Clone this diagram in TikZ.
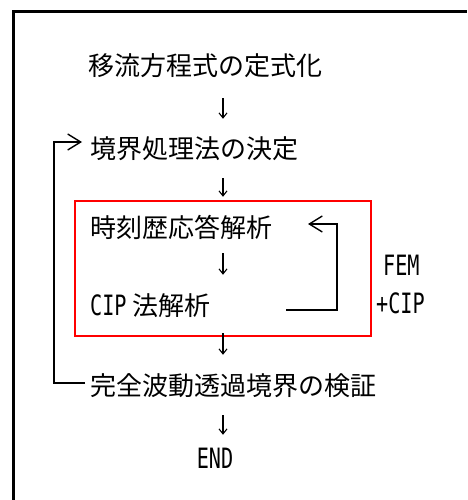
\documentclass[tikz,border=0pt]{standalone}
\usepackage{fontspec}
\usepackage{graphicx}
\usetikzlibrary{arrows.meta}
\newfontfamily\cjk{Noto Sans CJK JP}
\newfontfamily\latmono{DejaVu Sans Mono}
\newcommand{\lat}[1]{\scalebox{0.72}[1]{\latmono\fontsize{28}{28}\selectfont #1}}
\begin{document}
\begin{tikzpicture}[x=1pt,y=-1pt,
  txt/.style={inner sep=0pt,font=\cjk\fontsize{26}{26}\selectfont,text height=23pt,text depth=3pt},
  down/.style={line width=1.1pt,-{Straight Barb[length=5pt,width=8pt,line width=1.1pt]}},
  looparrow/.style={line width=1.4pt,-{Straight Barb[length=13pt,width=16pt,line width=1.4pt]}},
  frame/.style={line width=3pt}]
\useasboundingbox (0,0) rectangle (467,500);
\draw[frame] (13,500) -- (13,12) -- (467,12);
\coordinate (ax) at (223,0);
\node[txt,anchor=west] (n1) at (88,66) {移流方程式の定式化};
\node[txt,anchor=west] (n2) at (90,148) {境界処理法の決定};
\node[txt,anchor=west] (n3) at (90,227) {時刻歴応答解析};
\node[txt,anchor=west] (n4) at (90,305) {\lat{CIP} 法解析};
\node[txt,anchor=west] (n5) at (90,385) {完全波動透過境界の検証};
\node[txt] (n6) at (215,458) {\lat{END}};
\node[txt,anchor=west] (fem) at (383,265) {\lat{FEM}};
\node[txt,anchor=west] (cip) at (376,303) {\lat{+CIP}};
\node[draw=red,line width=1.5pt,minimum width=296pt,minimum height=135pt,inner sep=0pt] (box) at (223,268.5) {};
% vertical arrows
\draw[down,shorten <=19pt,shorten >=16pt] (n1.south -| ax) -- (n2.north -| ax);
\draw[down,shorten <=17pt,shorten >=17pt] (n2.south -| ax) -- (n3.north -| ax);
\draw[down,shorten <=13pt,shorten >=17pt] (n3.south -| ax) -- (n4.north -| ax);
\draw[down,shorten <=15pt,shorten >=17pt] (n4.south -| ax) -- (n5.north -| ax);
\draw[down,shorten <=17pt,shorten >=10pt] (n5.south -| ax) -- (n6.north -| ax);
% left loop
\coordinate (lx) at (54,142);
\draw[looparrow,shorten <=5pt,shorten >=8pt] ([yshift=2pt]n5.west) -| (lx) -- ([yshift=6pt]n2.west);
% right loop
\coordinate (r1) at (286,310);
\coordinate (rc) at (337,268);
\coordinate (r2) at (308,224);
\draw[looparrow] (r1) -| (rc) |- (r2);
\end{tikzpicture}
\end{document}
